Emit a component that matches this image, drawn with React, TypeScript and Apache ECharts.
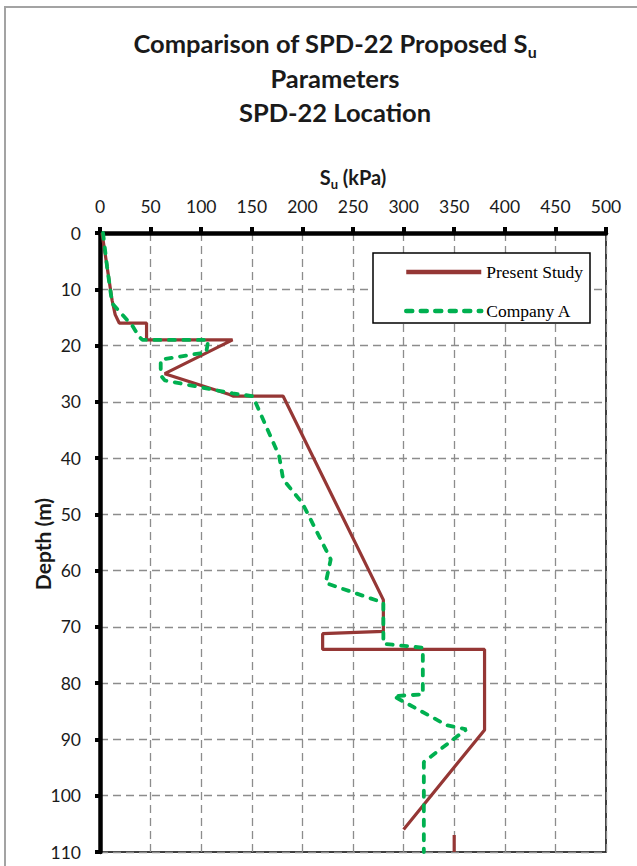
import React, { useEffect, useRef } from "react";
import * as echarts from "echarts";

// Undrained shear strength profiles, S_u (kPa) against depth (m)
const presentSu = [2, 7, 12, 15, 19, 46, 46, 131, 64, 128, 132, 181, 280, 280, 220, 220, 380, 380, 300];
const presentDepth = [0, 6, 12, 14.5, 16, 16, 19, 19, 25, 28.7, 29, 29, 65.2, 70.8, 71.2, 74, 74, 88.3, 106];
const presentTailSu = [350, 350];
const presentTailDepth = [107, 110];

const companySu = [3, 7, 12, 22, 32, 39, 42, 107, 105, 60, 60, 64, 131, 151, 177, 181, 200, 228, 223, 280, 280, 319, 319, 290, 343, 362, 320, 320];
const companyDepth = [0, 6, 12.5, 14.5, 16.5, 18.5, 19, 19, 21.2, 22.5, 25.3, 26.2, 28.5, 29, 39.6, 43.8, 48, 58, 62.2, 65.7, 73, 73.7, 82, 82.3, 87.5, 88.2, 94, 110];

const titleLines = ["Comparison of SPD-22 Proposed S", "Parameters", "SPD-22 Location"];
const seriesNames = ["Present Study", "Company A"];

const SANS = "Lato, 'Open Sans', sans-serif";
const SERIF = "'Liberation Serif', 'DejaVu Serif', serif";
const INK = "#1a1a1a";
const RED = "#953735";
const GREEN = "#00b050";

const pairs = (xs: number[], ys: number[]) => xs.map((x, i) => [x, ys[i]]);

export default function App() {
  const ref = useRef<HTMLDivElement>(null);

  useEffect(() => {
    if (!ref.current) return;
    const chart = echarts.init(ref.current, null, { renderer: "svg" });

    const gridLine = { color: "#8c8c8c", width: 1.3, type: [8, 5] as number[] };

    chart.setOption({
      animation: false,
      backgroundColor: "#ffffff",
      grid: {
        left: 100,
        top: 233,
        right: 31,
        bottom: 14,
        show: true,
        borderColor: "#000",
        borderWidth: 1.5,
        backgroundColor: "transparent",
      },
      xAxis: {
        type: "value",
        position: "top",
        min: 0,
        max: 500,
        interval: 50,
        axisLine: { show: true, lineStyle: { color: "#000", width: 4.5 } },
        axisTick: { show: true, inside: false, length: 6, lineStyle: { color: "#000", width: 4 } },
        axisLabel: { margin: 18, fontSize: 17.5, color: INK, fontFamily: SANS },
        splitLine: { show: true, lineStyle: gridLine },
      },
      yAxis: {
        type: "value",
        inverse: true,
        min: 0,
        max: 110,
        interval: 10,
        axisLine: { show: true, onZero: false, lineStyle: { color: "#000", width: 4.5 } },
        axisTick: { show: true, inside: false, length: 5, lineStyle: { color: "#000", width: 4 } },
        axisLabel: { margin: 19, fontSize: 17.5, color: INK, fontFamily: SANS },
        splitLine: { show: true, lineStyle: gridLine },
      },
      legend: {
        data: seriesNames,
        orient: "vertical",
        left: 404,
        top: 263,
        padding: 0,
        itemWidth: 75,
        itemHeight: 14,
        itemGap: 21,
        z: 20,
        itemStyle: { opacity: 0 },
        lineStyle: { width: 4.5 },
        textStyle: { fontFamily: SERIF, fontSize: 17.5, color: "#000" },
      },
      series: [
        {
          name: seriesNames[0],
          type: "line",
          data: pairs(presentSu, presentDepth),
          symbol: "none",
          z: 3,
          lineStyle: { color: RED, width: 3.2 },
          itemStyle: { color: RED },
        },
        {
          name: seriesNames[0],
          type: "line",
          data: pairs(presentTailSu, presentTailDepth),
          symbol: "none",
          z: 3,
          lineStyle: { color: RED, width: 3.2 },
          itemStyle: { color: RED },
        },
        {
          name: seriesNames[1],
          type: "line",
          data: pairs(companySu, companyDepth),
          symbol: "none",
          z: 4,
          lineStyle: { color: GREEN, width: 3.8, type: [6, 8.5], cap: "round" },
          itemStyle: { color: GREEN },
        },
      ],
      graphic: [
        {
          type: "rect",
          z: 1,
          silent: true,
          shape: { x: 5, y: 7, width: 700, height: 900 },
          style: { fill: "none", stroke: "#a3a3a3", lineWidth: 2 },
        },
        {
          type: "rect",
          z: 10,
          silent: true,
          shape: { x: 373, y: 253, width: 217, height: 70 },
          style: { fill: "#ffffff", stroke: "#000", lineWidth: 1.5 },
        },
        {
          type: "text",
          x: 335,
          y: 43,
          z: 10,
          style: {
            text: `{t|${titleLines[0]}}{s|u}`,
            align: "center",
            verticalAlign: "middle",
            fill: INK,
            rich: {
              t: { fontFamily: SANS, fontSize: 25.5, fontWeight: "bold", lineHeight: 32, fill: INK },
              s: { fontFamily: SANS, fontSize: 16, fontWeight: "bold", lineHeight: 16, verticalAlign: "bottom", fill: INK },
            },
          },
        },
        {
          type: "text",
          x: 335,
          y: 78,
          z: 10,
          style: {
            text: titleLines[1],
            align: "center",
            verticalAlign: "middle",
            fill: INK,
            font: `bold 25.5px ${SANS}`,
          },
        },
        {
          type: "text",
          x: 335,
          y: 112,
          z: 10,
          style: {
            text: titleLines[2],
            align: "center",
            verticalAlign: "middle",
            fill: INK,
            font: `bold 25.5px ${SANS}`,
          },
        },
        {
          type: "text",
          x: 353,
          y: 177,
          z: 10,
          style: {
            text: "{t|S}{s|u}{t| (kPa)}",
            align: "center",
            verticalAlign: "middle",
            fill: INK,
            rich: {
              t: { fontFamily: SANS, fontSize: 20, fontWeight: "bold", lineHeight: 26, fill: INK },
              s: { fontFamily: SANS, fontSize: 13, fontWeight: "bold", lineHeight: 13, verticalAlign: "bottom", fill: INK },
            },
          },
        },
        {
          type: "text",
          x: 42,
          y: 544,
          z: 10,
          rotation: Math.PI / 2,
          style: {
            text: "Depth (m)",
            align: "center",
            verticalAlign: "middle",
            fill: INK,
            font: `bold 21px ${SANS}`,
          },
        },
      ],
    });

    return () => chart.dispose();
  }, []);

  return (
    <div
      ref={ref}
      style={{ position: "fixed", left: 0, top: 0, width: 637, height: 866, background: "#fff" }}
    />
  );
}
